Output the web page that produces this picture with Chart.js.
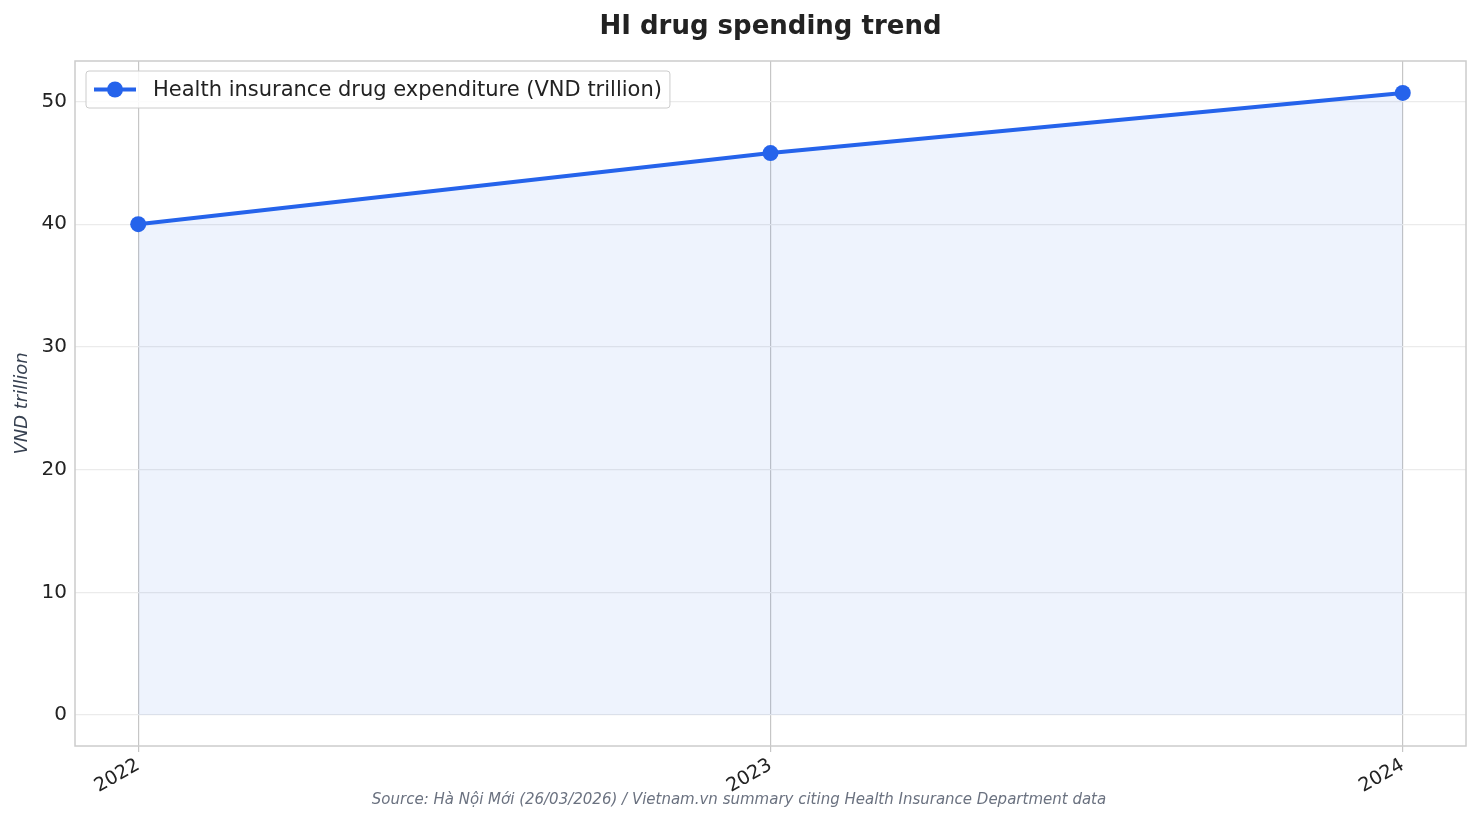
<!DOCTYPE html>
<html>
<head>
<meta charset="utf-8">
<script src="https://cdn.jsdelivr.net/npm/chart.js@4"></script>
<style>
  html, body { margin: 0; padding: 0; background: #fff; }
  #wrap { width: 1481px; height: 824px; }
</style>
</head>
<body>
<div id="wrap"><canvas id="spendChart" width="1481" height="824"></canvas></div>
<script>
const years = [2022, 2023, 2024];
const spending = [40.0, 45.8, 50.7];
const yTicks = [0, 10, 20, 30, 40, 50];
const chartTitle = 'HI drug spending trend';
const seriesLabel = 'Health insurance drug expenditure (VND trillion)';
const sourceNote = 'Source: Hà Nội Mới (26/03/2026) / Vietnam.vn summary citing Health Insurance Department data';

const FONT = '"DejaVu Sans", sans-serif';

// title over the plot area, frame, inside legend, source line
const decor = {
    id: 'decor',
    afterDraw(chart) {
        const { ctx, chartArea: a } = chart;
        ctx.save();
        ctx.strokeStyle = '#cccccc';
        ctx.lineWidth = 1.5;
        ctx.strokeRect(a.left, a.top, a.right - a.left, a.bottom - a.top);

        ctx.font = 'bold 26px ' + FONT;
        ctx.fillStyle = '#222';
        ctx.textAlign = 'center';
        ctx.textBaseline = 'middle';
        ctx.fillText(chartTitle, (a.left + a.right) / 2, 27);

        // legend box
        ctx.font = '21px ' + FONT;
        const tw = ctx.measureText(seriesLabel).width;
        const bx = a.left + 11, by = a.top + 10, bh = 37, bw = tw + 75;
        ctx.fillStyle = 'rgba(255,255,255,0.85)';
        ctx.strokeStyle = '#cccccc';
        ctx.lineWidth = 1;
        ctx.beginPath();
        ctx.roundRect(bx, by, bw, bh, 3);
        ctx.fill();
        ctx.stroke();
        const my = by + bh / 2;
        ctx.strokeStyle = '#2563eb';
        ctx.lineWidth = 4;
        ctx.beginPath();
        ctx.moveTo(bx + 8, my);
        ctx.lineTo(bx + 50, my);
        ctx.stroke();
        ctx.fillStyle = '#2563eb';
        ctx.beginPath();
        ctx.arc(bx + 29, my, 8, 0, Math.PI * 2);
        ctx.fill();
        ctx.fillStyle = '#222';
        ctx.textAlign = 'left';
        ctx.fillText(seriesLabel, bx + 67, my + 1);

        // source line
        ctx.font = 'italic 15px ' + FONT;
        ctx.fillStyle = '#6b7280';
        ctx.textAlign = 'center';
        ctx.fillText(sourceNote, 739, 800);
        ctx.restore();
    }
};

new Chart(document.getElementById('spendChart'), {
    type: 'line',
    data: {
        datasets: [{
            label: seriesLabel,
            data: years.map((y, i) => ({ x: y, y: spending[i] })),
            borderColor: '#2563eb',
            backgroundColor: 'rgba(37,99,235,0.08)',
            borderWidth: 4,
            fill: 'origin',
            pointRadius: 8,
            pointBackgroundColor: '#2563eb',
            pointBorderWidth: 0,
            tension: 0
        }]
    },
    options: {
        responsive: false,
        animation: false,
        devicePixelRatio: 1,
        layout: { padding: { left: 0, right: 15, top: 61, bottom: 0 } },
        plugins: {
            legend: { display: false },
            tooltip: { enabled: false },
            title: { display: false }
        },
        scales: {
            x: {
                type: 'linear',
                min: 2021.9,
                max: 2024.1,
                afterBuildTicks: s => { s.ticks = years.map(v => ({ value: v })); },
                afterFit: s => { s.height = 78; },
                grid: { color: '#c6c6c6', lineWidth: 1.2, drawTicks: true, tickLength: 6, tickColor: '#c6c6c6' },
                border: { display: false },
                ticks: {
                    color: '#222',
                    font: { family: FONT, size: 19 },
                    minRotation: 30,
                    maxRotation: 30,
                    padding: 2,
                    callback: v => String(v)
                }
            },
            y: {
                min: -2.52,
                max: 53.3,
                afterBuildTicks: s => { s.ticks = yTicks.map(v => ({ value: v })); },
                afterFit: s => { s.width = 75; },
                grid: { color: '#ebebeb', lineWidth: 1.2, tickLength: 6, tickColor: '#ffffff' },
                border: { display: false },
                title: {
                    display: true,
                    text: 'VND trillion',
                    color: '#374151',
                    font: { family: FONT, size: 18, style: 'italic' },
                    padding: { top: 12, bottom: 4 }
                },
                ticks: {
                    color: '#222',
                    font: { family: FONT, size: 20 },
                    padding: 2
                }
            }
        }
    },
    plugins: [decor]
});
</script>
</body>
</html>
